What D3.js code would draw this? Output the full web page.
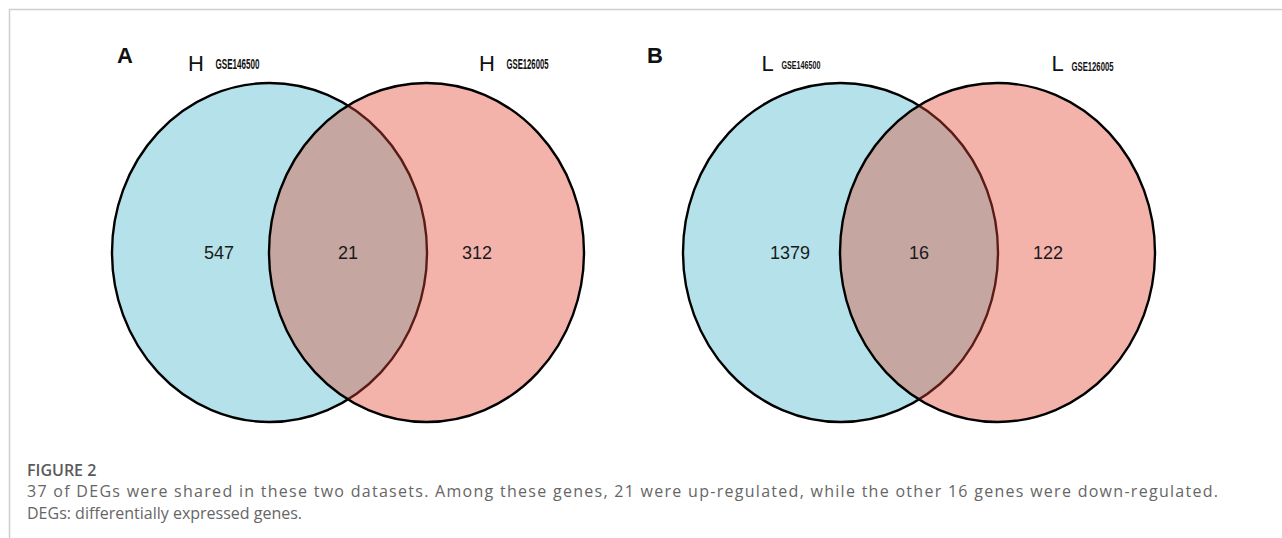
<!DOCTYPE html>
<html><head><meta charset="utf-8">
<script src="https://cdn.jsdelivr.net/npm/d3@7"></script>
<style>body{margin:0;background:#fff;}svg{display:block;}</style>
</head><body>
<script>
// ---- data ----
const panels = ["A", "B"];
const groupPrefix = ["H", "L"];
const datasets = ["GSE146500", "GSE126005"];
const leftOnly = [547, 1379];
const shared = [21, 16];
const rightOnly = [312, 122];
const captionTitle = "FIGURE 2";
const captionLines = [
  "37 of DEGs were shared in these two datasets. Among these genes, 21 were up-regulated, while the other 16 genes were down-regulated.",
  "DEGs: differentially expressed genes."
];

const W = 1282, H = 538;
const svg = d3.select("body").append("svg").attr("width", W).attr("height", H);

// frame lines
svg.append("line").attr("x1", 9).attr("x2", W).attr("y1", 9.5).attr("y2", 9.5)
  .attr("stroke", "#cfcfcf").attr("stroke-width", 1.5);
svg.append("line").attr("x1", 9.5).attr("x2", 9.5).attr("y1", 9).attr("y2", H)
  .attr("stroke", "#cfcfcf").attr("stroke-width", 1.5);

// panel layout via point scale (left edge of each panel's left set)
const px = d3.scalePoint().domain(panels).range([112, 683]);
const rx = 157.5, ry = 169.5, cy = 252.5;
const sep = 157;
const blue = "#b5e2ea", pink = "#f3b3ab", mix = "#c6a6a1", darkEdge = "#5a1c16";
const letterOffset = [5, -36];

const defs = svg.append("defs");

panels.forEach((p, i) => {
  const x0 = px(p);
  const c1 = x0 + rx, c2 = c1 + sep;
  const g = svg.append("g");

  defs.append("clipPath").attr("id", "clipR" + i)
    .append("ellipse").attr("cx", c2).attr("cy", cy).attr("rx", rx).attr("ry", ry);

  g.append("ellipse").attr("cx", c1).attr("cy", cy).attr("rx", rx).attr("ry", ry)
    .attr("fill", blue).attr("stroke", "#000").attr("stroke-width", 2.4);
  g.append("ellipse").attr("cx", c2).attr("cy", cy).attr("rx", rx).attr("ry", ry)
    .attr("fill", pink);
  g.append("ellipse").attr("cx", c1).attr("cy", cy).attr("rx", rx).attr("ry", ry)
    .attr("clip-path", `url(#clipR${i})`).attr("fill", mix)
    .attr("stroke", darkEdge).attr("stroke-width", 2.4);
  g.append("ellipse").attr("cx", c2).attr("cy", cy).attr("rx", rx).attr("ry", ry)
    .attr("fill", "none").attr("stroke", "#000").attr("stroke-width", 2.4);

  const counts = [leftOnly[i], shared[i], rightOnly[i]];
  const cx = [c1 - 50.5, (c1 + c2) / 2, c2 + 50.5];
  g.selectAll("text.count").data(counts).join("text")
    .attr("class", "count")
    .attr("x", (d, k) => cx[k]).attr("y", cy + 6.5)
    .attr("text-anchor", "middle")
    .attr("font-family", "Liberation Sans, Arial, sans-serif")
    .attr("font-size", 18).attr("fill", "#1a1a1a")
    .text(d => d);

  g.append("text").attr("x", x0 + letterOffset[i]).attr("y", 63)
    .attr("font-family", "Liberation Sans, Arial, sans-serif")
    .attr("font-weight", "bold").attr("font-size", 22).attr("fill", "#111")
    .text(p);

  const prefX = i === 0 ? [c1 - 81.5, c2 + 52.5] : [c1 - 79, c2 + 54];
  const small = i === 0 ? [14, 14] : [11.5, 12];
  const smallW = i === 0 ? [44, 42] : [39, 42];
  const smallY = i === 0 ? [69, 69] : [69, 70.5];
  datasets.forEach((ds, k) => {
    g.append("text").attr("x", prefX[k]).attr("y", 71)
      .attr("font-family", "Liberation Sans, Arial, sans-serif")
      .attr("font-size", 22).attr("fill", "#111")
      .text(groupPrefix[i]);
    const gap = i === 0 ? 13.5 : 10;
    const wPref = i === 0 ? 14 : 10;
    g.append("text").attr("x", prefX[k] + wPref + gap).attr("y", smallY[k])
      .attr("font-family", "Liberation Sans Narrow, Liberation Sans, Arial, sans-serif")
      .attr("font-weight", "bold").attr("font-size", small[k]).attr("fill", "#111")
      .attr("textLength", smallW[k]).attr("lengthAdjust", "spacingAndGlyphs")
      .text(ds);
  });
});

// caption
svg.append("text").attr("x", 27).attr("y", 476)
  .attr("font-family", "Open Sans, Lato, sans-serif").attr("font-weight", 600)
  .attr("font-size", 16).attr("fill", "#5a5a5a")
  .text(captionTitle);
const capW = [1191, null];
captionLines.forEach((s, k) => {
  const t = svg.append("text").attr("x", 27).attr("y", 497 + k * 22)
    .attr("font-family", "Open Sans, Lato, sans-serif")
    .attr("font-size", 16).attr("fill", "#666")
    .text(s);
  if (capW[k]) t.attr("textLength", capW[k]).attr("lengthAdjust", "spacing");
});
</script>
</body></html>
